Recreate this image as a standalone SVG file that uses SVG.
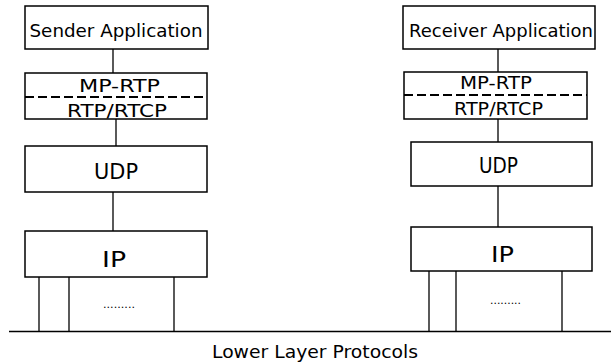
<svg xmlns="http://www.w3.org/2000/svg" width="611" height="362" viewBox="0 0 611 362">
<style>
.box{fill:#fff;stroke:#000;stroke-width:1.5}
.ln{stroke:#000;stroke-width:1.3;fill:none}
.dash{stroke:#000;stroke-width:2;stroke-dasharray:9 4;fill:none}
text{font-family:"DejaVu Sans","Liberation Sans",sans-serif;fill:#000;text-anchor:middle}
.t17{font-size:17px}
.t18{font-size:18px}
.t22{font-size:22px}
.dots{font-size:10px}
</style>
<rect width="611" height="362" fill="#fff"/>
<g id="connectors">
<line class="ln" x1="113" y1="49" x2="113" y2="73"/>
<line class="ln" x1="116" y1="119" x2="116" y2="146"/>
<line class="ln" x1="113" y1="192" x2="113" y2="231"/>
<line class="ln" x1="498" y1="49" x2="498" y2="72"/>
<line class="ln" x1="498" y1="119" x2="498" y2="142"/>
<line class="ln" x1="498" y1="186" x2="498" y2="227"/>
</g>
<g id="sender-app">
<rect class="box" x="25" y="6" width="183" height="43"/>
<text class="t17" x="116" y="37" textLength="173" lengthAdjust="spacingAndGlyphs">Sender Application</text>
</g>
<g id="sender-rtp">
<rect class="box" x="25" y="73" width="182" height="46"/>
<line class="dash" x1="25" y1="97" x2="207" y2="97"/>
<text class="t18" x="119.5" y="92" textLength="81" lengthAdjust="spacingAndGlyphs">MP-RTP</text>
<text class="t18" x="117" y="117" textLength="100" lengthAdjust="spacingAndGlyphs">RTP/RTCP</text>
</g>
<g id="sender-udp">
<rect class="box" x="25" y="146" width="182" height="46"/>
<text class="t22" x="116" y="179" textLength="44" lengthAdjust="spacingAndGlyphs">UDP</text>
</g>
<g id="sender-ip">
<rect class="box" x="25" y="231" width="182" height="46"/>
<text class="t22" x="114" y="267" textLength="24" lengthAdjust="spacingAndGlyphs">IP</text>
<line class="ln" x1="39" y1="277" x2="39" y2="331"/>
<line class="ln" x1="69" y1="277" x2="69" y2="331"/>
<line class="ln" x1="174" y1="277" x2="174" y2="331"/>
<text class="dots" x="119" y="308" textLength="32" lengthAdjust="spacingAndGlyphs">.........</text>
</g>
<g id="receiver-app">
<rect class="box" x="403" y="6" width="192" height="43"/>
<text class="t17" x="501" y="37" textLength="184" lengthAdjust="spacingAndGlyphs">Receiver Application</text>
</g>
<g id="receiver-rtp">
<rect class="box" x="404" y="72" width="183" height="47"/>
<line class="dash" x1="404" y1="95" x2="587" y2="95"/>
<text class="t18" x="496" y="89" textLength="72" lengthAdjust="spacingAndGlyphs">MP-RTP</text>
<text class="t18" x="498.5" y="115" textLength="89" lengthAdjust="spacingAndGlyphs">RTP/RTCP</text>
</g>
<g id="receiver-udp">
<rect class="box" x="411" y="142" width="181" height="44"/>
<text class="t22" x="498.5" y="173" textLength="39" lengthAdjust="spacingAndGlyphs">UDP</text>
</g>
<g id="receiver-ip">
<rect class="box" x="411" y="227" width="181" height="44"/>
<text class="t22" x="502.5" y="262" textLength="23" lengthAdjust="spacingAndGlyphs">IP</text>
<line class="ln" x1="429" y1="271" x2="429" y2="331"/>
<line class="ln" x1="456" y1="271" x2="456" y2="331"/>
<line class="ln" x1="562" y1="271" x2="562" y2="331"/>
<text class="dots" x="505.5" y="304" textLength="31" lengthAdjust="spacingAndGlyphs">.........</text>
</g>
<g id="lower-layer">
<line x1="9" y1="331.5" x2="611" y2="331.5" stroke="#000" stroke-width="1.6"/>
<text class="t17" x="315" y="358" textLength="206" lengthAdjust="spacingAndGlyphs">Lower Layer Protocols</text>
</g>
</svg>
